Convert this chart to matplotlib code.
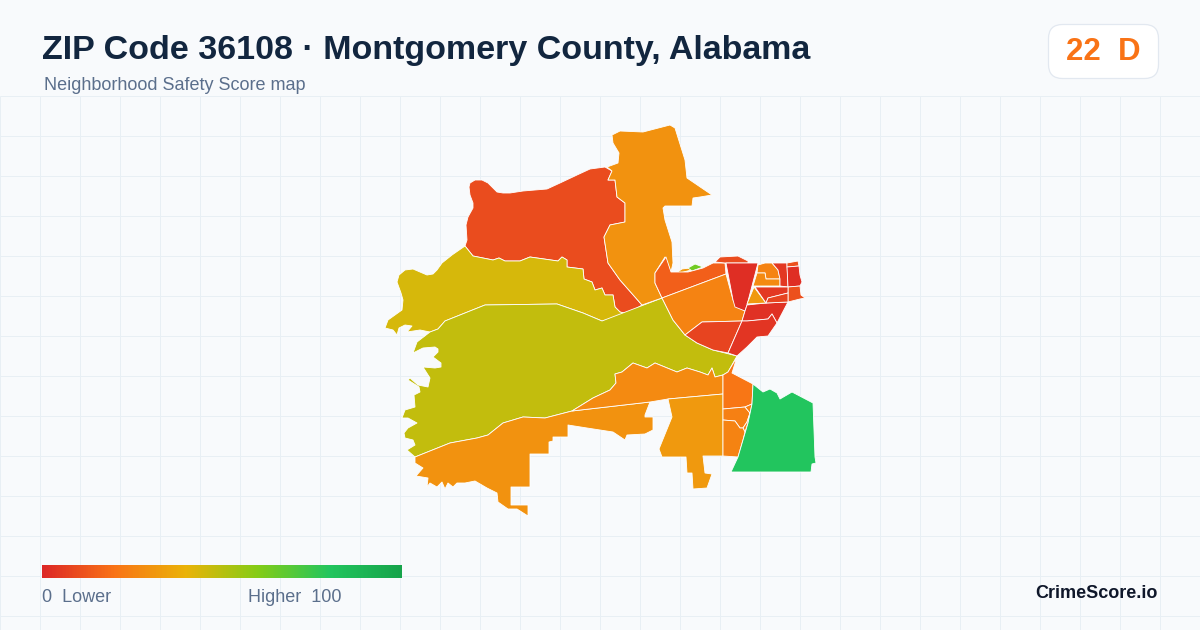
import numpy as np
import matplotlib
matplotlib.use("Agg")
import matplotlib.pyplot as plt
from matplotlib.collections import PolyCollection
from matplotlib.colorbar import Colorbar
from matplotlib.colors import LinearSegmentedColormap, Normalize
from matplotlib.patches import FancyBboxPatch

title = "ZIP Code 36108 \u00b7 Montgomery County, Alabama"
subtitle = "Neighborhood Safety Score map"
badge_text = "22  D"
brand = "CrimeScore.io"
legend_low = "0  Lower"
legend_high = "Higher  100"

scale_stops = [0.0, 0.2, 0.4, 0.6, 0.8, 1.0]
scale_colors = ["#dc2626", "#f97316", "#eab308", "#84cc16", "#22c55e", "#16a34a"]

# tract outlines, in image pixels
nw_red = [(465, 246), (467, 240), (466, 225), (468, 217), (473, 208), (473, 203), (470, 195),
          (469, 187), (470, 183), (475, 180), (482, 180), (488, 183), (492, 187), (497, 192),
          (503, 193), (510, 193), (523, 191), (547, 189), (560, 183), (577, 175),
          (590, 169), (605, 167), (612, 171), (608, 180), (615, 180), (617, 197), (625, 203),
          (625, 222), (610, 225), (604, 237), (608, 263), (620, 280), (642, 305), (628, 314),
          (620, 312), (615, 307), (613, 295), (605, 295), (602, 288), (595, 290), (592, 282),
          (584, 279), (583, 269), (567, 267), (567, 260), (562, 257), (558, 261), (530, 257),
          (520, 261), (505, 261), (499, 258), (493, 260), (473, 256)]
west_gold = [(465, 246), (473, 256), (493, 260), (499, 258), (505, 261), (520, 261), (530, 257),
             (558, 261), (562, 257), (567, 260), (567, 267), (583, 269), (584, 279), (592, 282),
             (595, 290), (602, 288), (605, 295), (613, 295), (615, 307), (620, 312), (628, 314),
             (602, 321), (583, 313), (557, 304), (485, 305), (445, 321), (438, 329), (430, 332),
             (420, 330), (407, 332), (412, 326), (405, 325), (399, 328), (397, 335), (393, 330),
             (385, 328), (388, 320), (402, 310), (403, 300), (401, 293), (397, 282), (399, 275),
             (405, 270), (413, 269), (420, 272), (427, 275), (433, 274), (437, 270), (442, 263),
             (452, 255)]
central_olive = [(430, 332), (438, 329), (445, 321), (485, 305), (557, 304), (583, 313), (602, 321),
                 (662, 298), (673, 320), (685, 335), (697, 343), (713, 350), (737, 356), (728, 372),
                 (723, 375), (715, 377), (712, 368), (708, 375), (700, 372), (687, 368), (677, 372),
                 (655, 363), (647, 368), (633, 363), (622, 372), (615, 374), (616, 383), (610, 390),
                 (593, 398), (572, 411), (545, 418), (523, 417), (503, 423), (488, 435), (477, 438),
                 (450, 443), (415, 457), (407, 450), (415, 445), (413, 440), (405, 438), (404, 433),
                 (408, 428), (417, 423), (408, 418), (402, 418), (405, 410), (415, 407), (414, 395),
                 (420, 392), (419, 387), (408, 380), (410, 378), (418, 385), (428, 387), (430, 378),
                 (423, 367), (435, 368), (441, 367), (441, 363), (433, 357), (438, 352), (438, 349),
                 (435, 347), (423, 348), (413, 353), (417, 342)]
sw_orange = [(415, 457), (450, 443), (477, 438), (488, 435), (503, 423), (523, 417), (545, 418),
             (572, 411), (650, 402), (645, 415), (645, 417), (653, 417), (653, 430), (645, 434),
             (627, 435), (625, 440), (613, 432), (587, 428), (568, 425), (568, 437), (553, 437),
             (553, 441), (549, 442), (549, 454), (530, 454), (530, 487), (511, 487), (511, 505),
             (528, 505), (528, 516), (517, 509), (508, 509), (498, 502), (497, 493), (487, 488),
             (475, 481), (465, 483), (457, 483), (453, 487), (448, 483), (445, 489), (442, 482),
             (437, 487), (430, 483), (427, 487), (428, 478), (416, 476), (423, 468), (415, 463)]
river_orange = [(572, 411), (593, 398), (610, 390), (616, 383), (615, 374), (622, 372), (633, 363),
                (647, 368), (655, 363), (677, 372), (687, 368), (700, 372), (708, 375), (712, 368),
                (715, 377), (723, 375), (723, 394), (668, 399), (650, 402)]
south_orange = [(668, 399), (723, 394), (723, 456), (703, 456), (705, 473), (712, 474), (707, 488),
                (693, 489), (692, 473), (687, 473), (686, 457), (662, 457), (659, 449), (672, 417)]
east_orange = [(737, 357), (732, 373), (753, 384), (752, 404), (745, 407), (723, 409), (723, 375),
               (728, 372)]
small_a = [(723, 409), (745, 407), (750, 413), (747, 422), (743, 428), (740, 428), (735, 421),
           (723, 420)]
small_b = [(745, 407), (752, 404), (748, 423), (745, 432), (743, 428), (747, 422), (750, 413)]
small_c = [(723, 420), (735, 421), (740, 428), (743, 428), (745, 432), (743, 440), (738, 457),
           (723, 456)]
green_tract = [(753, 384), (763, 392), (770, 389), (777, 393), (780, 399), (792, 392), (813, 403),
               (815, 457), (816, 463), (812, 464), (811, 472), (731, 472), (738, 457), (743, 440),
               (748, 423), (752, 404)]
north_orange = [(612, 135), (620, 131), (643, 132), (670, 125), (675, 128), (685, 160), (687, 178),
                (712, 195), (700, 197), (693, 198), (692, 206), (665, 206), (663, 208), (665, 220),
                (672, 242), (673, 263), (671, 272), (665, 257), (655, 273), (655, 283), (662, 298),
                (642, 305), (620, 280), (608, 263), (604, 237), (610, 225), (625, 222), (625, 203),
                (617, 197), (615, 180), (608, 180), (612, 171), (607, 167), (618, 163), (619, 153),
                (613, 143)]
sliver_orange = [(676, 273), (682, 269), (690, 268), (691, 270), (680, 273)]
sliver_green = [(688, 268), (695, 264), (703, 267), (692, 271)]
arc_red = [(666, 257), (671, 272), (688, 272), (703, 268), (713, 263), (725, 263), (726, 274),
           (662, 298), (655, 283), (655, 273)]
cap_red = [(715, 262), (720, 257), (738, 256), (748, 261), (748, 263), (725, 263)]
mid_orange = [(662, 298), (726, 274), (733, 300), (738, 307), (745, 311), (742, 321), (702, 322),
              (685, 335), (673, 320)]
tall_red = [(726, 263), (758, 263), (747, 305), (745, 311), (735, 307), (733, 300)]
low_red = [(685, 335), (702, 322), (742, 321), (728, 353), (713, 350), (697, 343)]
se_red_top = [(747, 305), (766, 303), (788, 302), (777, 323), (772, 314), (768, 319), (747, 321),
              (742, 321), (745, 311)]
se_red_low = [(742, 321), (747, 321), (768, 319), (772, 314), (777, 323), (768, 336), (757, 337),
              (747, 347), (737, 356), (728, 353)]
dt_orange_a = [(758, 265), (765, 263), (772, 263), (778, 270), (780, 279), (766, 279), (765, 273),
               (757, 273)]
dt_orange_b = [(757, 273), (765, 273), (766, 279), (780, 279), (780, 286), (753, 286)]
dt_triangle = [(754, 287), (766, 303), (747, 304)]
dt_red_north = [(772, 263), (787, 263), (788, 287), (780, 286), (780, 279), (778, 270)]
dt_ne_top = [(787, 263), (798, 261), (799, 266), (787, 267)]
dt_ne_low = [(787, 267), (799, 266), (800, 275), (802, 282), (800, 286), (788, 287)]
dt_east = [(788, 287), (800, 286), (801, 295), (805, 298), (800, 299), (788, 302)]
dt_centre = [(755, 287), (788, 287), (788, 293), (768, 298), (766, 303)]
dt_south = [(768, 298), (788, 293), (788, 302), (766, 303)]

tract_shapes = [nw_red, west_gold, central_olive, sw_orange, river_orange, south_orange,
                east_orange, small_a, small_b, small_c, green_tract, north_orange,
                sliver_orange, sliver_green, arc_red, cap_red, mid_orange, tall_red, low_red,
                se_red_top, se_red_low, dt_orange_a, dt_orange_b, dt_triangle, dt_red_north,
                dt_ne_top, dt_ne_low, dt_east, dt_centre, dt_south]
tract_scores = [10, 44, 48, 30, 27, 32,
                21, 24, 24, 25, 80, 30,
                32, 64, 15, 10, 25, 2, 8,
                3, 4, 25, 27, 32, 5,
                11, 2, 11, 5, 8]

grid_x = np.arange(0, 1201, 40)
grid_y = np.arange(96, 630, 40)

cmap = LinearSegmentedColormap.from_list("safety", list(zip(scale_stops, scale_colors)))
norm = Normalize(0, 100)

plt.rcParams['font.family'] = ['Liberation Sans', 'DejaVu Sans']

fig = plt.figure(figsize=(12, 6.3), dpi=100, facecolor="#f8fafc")
ax = fig.add_axes([0, 0, 1, 1])
ax.set_xlim(0, 1200)
ax.set_ylim(630, 0)
ax.axis("off")

ax.vlines(grid_x, 96, 630, color="#e8eff4", linewidth=0.72, zorder=1)
ax.hlines(grid_y, 0, 1200, color="#e8eff4", linewidth=0.72, zorder=1)

tracts = PolyCollection(tract_shapes, array=np.array(tract_scores, dtype=float), cmap=cmap, norm=norm,
                        edgecolors="#ffffff", linewidths=0.6, zorder=2)
ax.add_collection(tracts)

ax.text(42, 50, title, fontsize=24.5, fontweight="bold", color="#12263f", va="center", ha="left")
ax.text(44, 85, subtitle, fontsize=12.96, color="#5b6f8c", va="center", ha="left")

badge = FancyBboxPatch((1048.5, 24.5), 110, 54, boxstyle="round,pad=0,rounding_size=14",
                       facecolor="#ffffff", edgecolor="#e2e8f0", linewidth=0.9, zorder=3)
ax.add_patch(badge)
ax.text(1103, 51.5, badge_text, fontsize=22.5, fontweight="bold", color="#f97316", va="center",
        ha="center", zorder=4)

cax = fig.add_axes([42 / 1200, 1 - 578 / 630, 360 / 1200, 13 / 630])
cbar = Colorbar(cax, cmap=cmap, norm=norm, orientation="horizontal")
cbar.set_ticks([])
cbar.outline.set_visible(False)

ax.text(42, 597.5, legend_low, fontsize=12.96, color="#5b6f8c", va="center", ha="left")
ax.text(342, 597.5, legend_high, fontsize=12.96, color="#5b6f8c", va="center", ha="right")
ax.text(1158, 594, brand, fontsize=13, fontweight="bold", color="#0f172a", va="center", ha="right")

fig.savefig("out.png", dpi=100, facecolor=fig.get_facecolor())
